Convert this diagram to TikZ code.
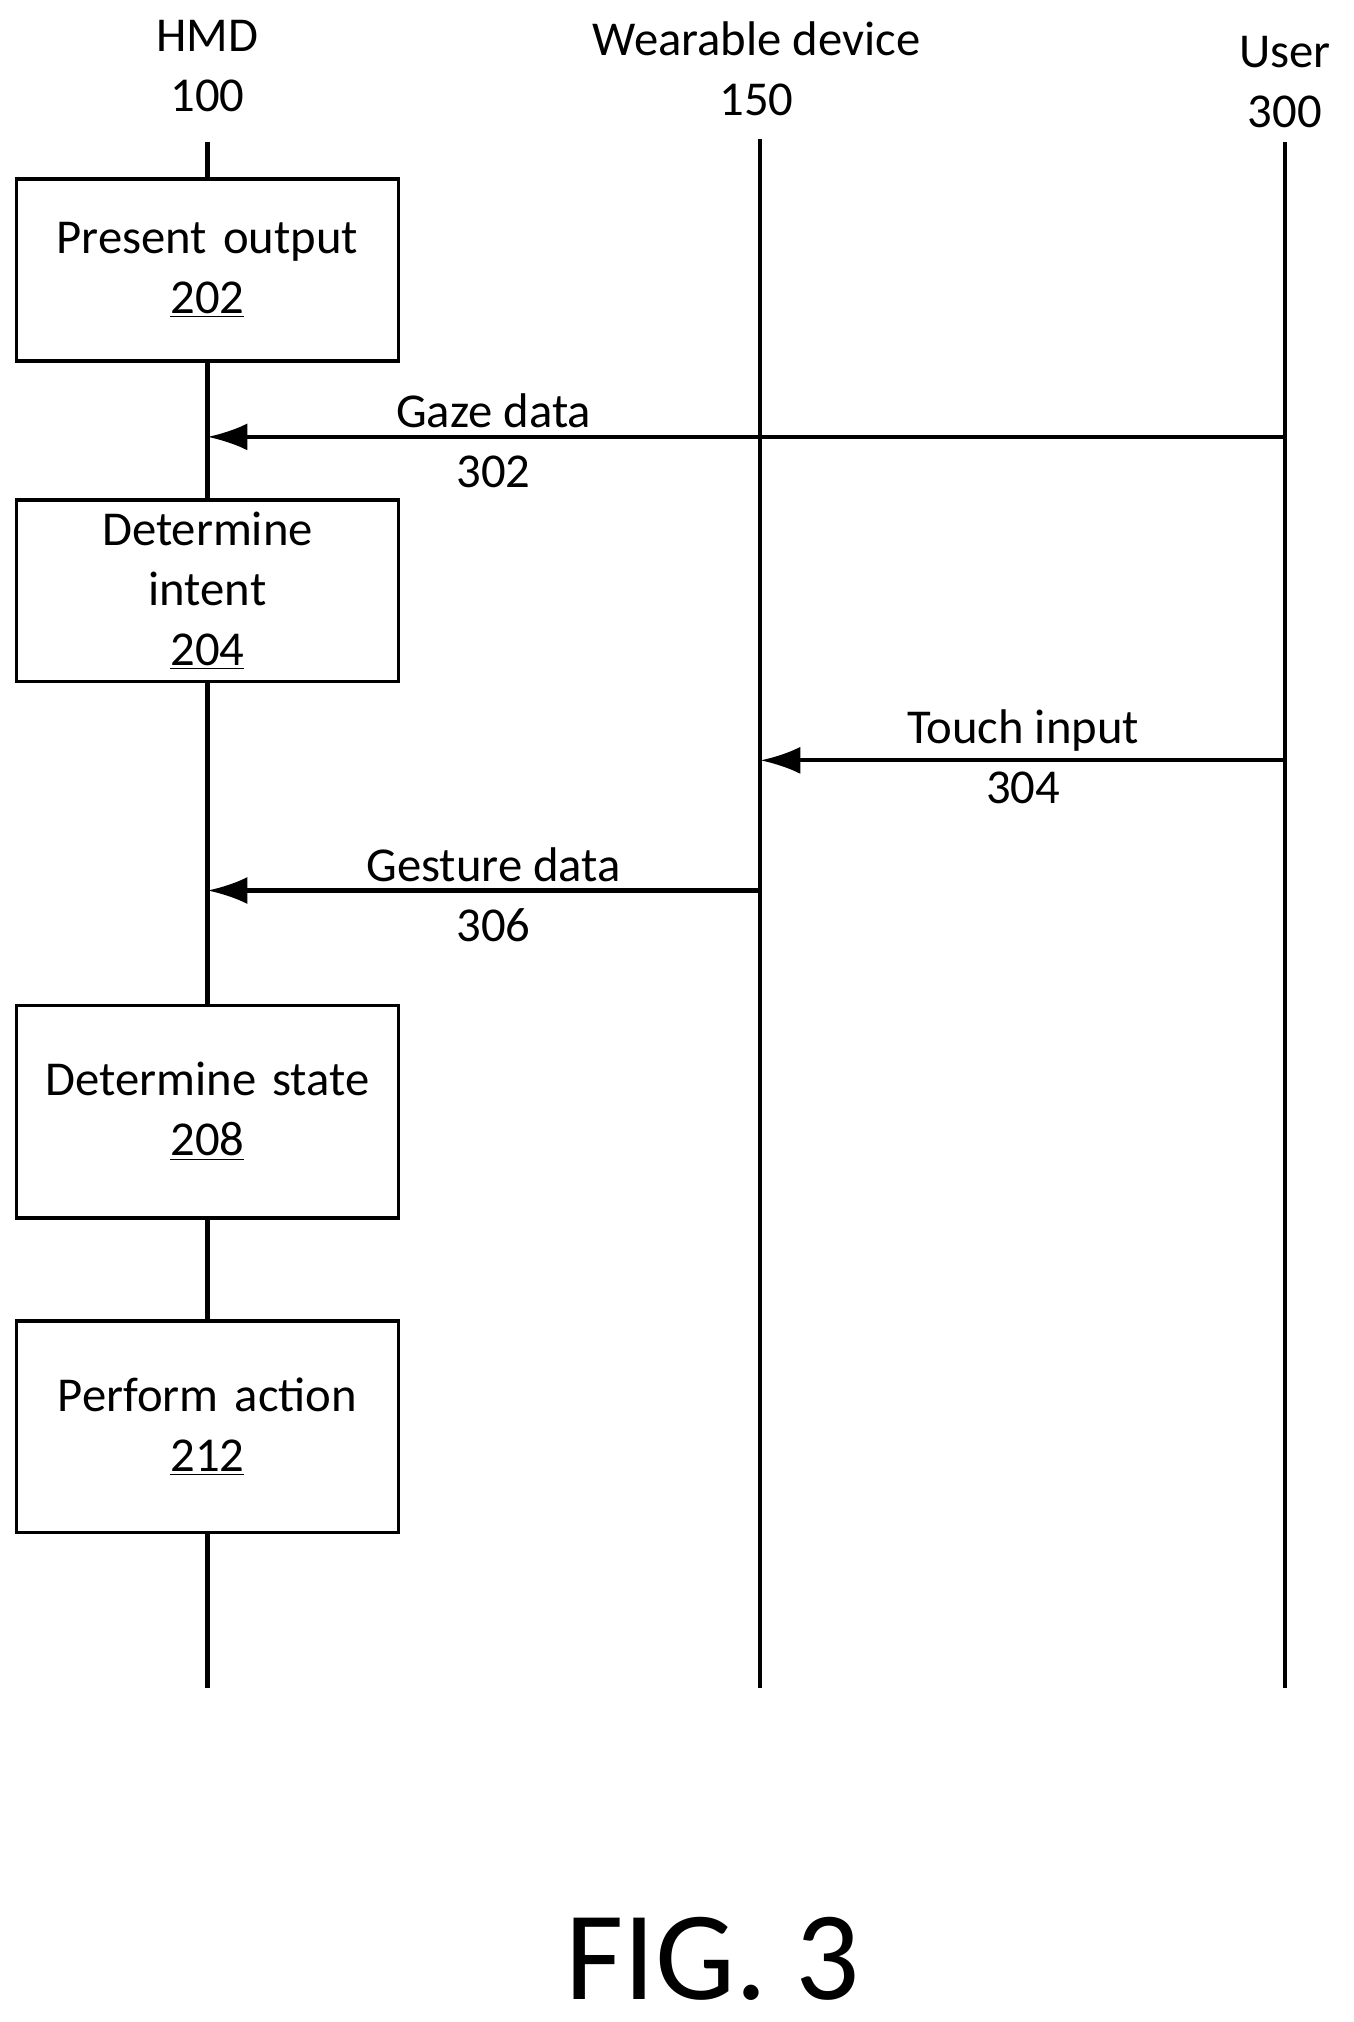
\documentclass[tikz,border=0pt]{standalone}
\usepackage{fontspec}
\setmainfont{Carlito}
\usetikzlibrary{positioning}

\tikzset{
  stepbox/.style = {draw, line width = 1.5pt, minimum width = 5.8cm, text width = 5.7cm, align = center, font = \fontsize{21.5}{26.5}\selectfont},
  lbl/.style = {align = center, font = \fontsize{21.5}{26.5}\selectfont},
  life/.style = {line width = 1.8pt},
  msg/.style = {-{Latex[length = 0.62cm, width = 0.42cm]}, line width = 1.8pt}
}
\usetikzlibrary{arrows.meta}

\begin{document}
\begin{tikzpicture}[x = 0.02cm, y = -0.02cm]
    \useasboundingbox (0, 0) rectangle (1050, 1569);

    %%%%%%%%%% lifelines %%%%%%%%%%
    \node [lbl] (hmd) at (161, 51) {HMD\\100};
    \node [lbl] (wear) at (587, 53) {Wearable device\\150};
    \node [lbl] (user) at (997, 64) {User\\300};
    \coordinate (hmdEnd) at (161, 1310);
    \coordinate (wearTop) at (590, 108);
    \coordinate (wearEnd) at (590, 1310);
    \coordinate (userTop) at (997, 110);
    \coordinate (userEnd) at (997, 1310);
    \coordinate (hmdTop) at (161, 110);
    \draw [life] (hmdTop) -- (hmdEnd);
    \draw [life] (wearTop) -- (wearEnd);
    \draw [life] (userTop) -- (userEnd);

    %%%%%%%%%% steps %%%%%%%%%%
    \node [stepbox, fill = white, minimum height = 2.82cm] (s202) at (161, 209.5) {Present output\\\underline{202}};
    \node [stepbox, fill = white, minimum height = 2.82cm] (s204) at (161, 458.5) {Determine\\intent\\\underline{204}};
    \node [stepbox, fill = white, minimum height = 3.3cm] (s208) at (161, 862.5) {Determine state\\\underline{208}};
    \node [stepbox, fill = white, minimum height = 3.28cm] (s212) at (161, 1107) {Perform action\\\underline{212}};

    %%%%%%%%%% messages %%%%%%%%%%
    \coordinate (gazeA) at (997, 339);
    \coordinate (gazeB) at (161, 339);
    \coordinate (touchA) at (997, 590);
    \coordinate (touchB) at (590, 590);
    \coordinate (gestA) at (590, 691);
    \coordinate (gestB) at (161, 691);
    \draw [msg] (gazeA) -- (gazeB);
    \draw [msg] (touchA) -- (touchB);
    \draw [msg] (gestA) -- (gestB);
    \node [lbl] (l302) at (383, 342) {Gaze data\\302};
    \node [lbl] (l304) at (794, 587) {Touch input\\304};
    \node [lbl] (l306) at (383, 694) {Gesture data\\306};

    \node [font = \fontsize{56}{66}\selectfont] (fig) at (553, 1520) {FIG. 3};
\end{tikzpicture}
\end{document}
